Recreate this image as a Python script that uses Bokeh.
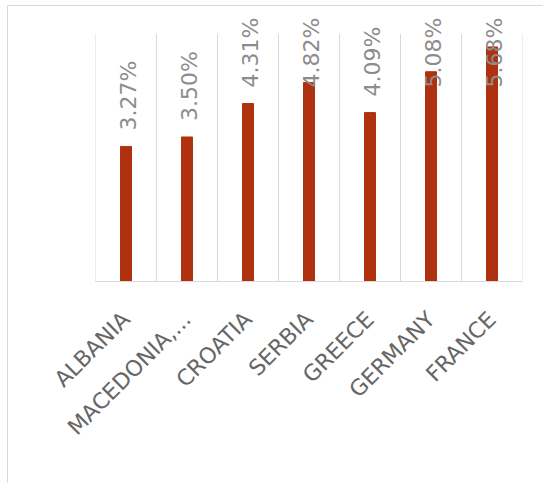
import numpy as np
from bokeh.plotting import figure
from bokeh.models import ColumnDataSource, FixedTicker, Range1d
from bokeh.core.properties import value
from bokeh.embed import file_html
from bokeh.resources import INLINE

countries = ["ALBANIA", "MACEDONIA,...", "CROATIA", "SERBIA", "GREECE", "GERMANY", "FRANCE"]
rates = [3.27, 3.50, 4.31, 4.82, 4.09, 5.08, 5.68]
rate_labels = ["3.27%", "3.50%", "4.31%", "4.82%", "4.09%", "5.08%", "5.68%"]

n = len(countries)
xs = np.arange(n) + 0.5
label_cap = 4.31  # labels cannot rise above plot top, so they are held down
label_y = np.minimum(np.array(rates), label_cap)

src = ColumnDataSource(dict(x=xs, top=rates, ly=label_y, lab=rate_labels))

FONT = "DejaVu Sans"
p = figure(width=536, height=478, output_backend="svg", toolbar_location=None,
           x_range=Range1d(0, n), y_range=Range1d(0, 6.49),
           min_border_left=87, min_border_right=22, min_border_top=7, min_border_bottom=203)
p.styles = {"margin-left": "7px", "margin-top": "5px",
            "border-left": "1px solid #d9d9d9", "border-top": "1px solid #d9d9d9"}
p.outline_line_color = None
p.background_fill_color = "white"
p.border_fill_color = "white"
p.xgrid.visible = False
p.ygrid.visible = False
p.yaxis.visible = False

# vertical category separators (chart gridlines) from 0 to 6
p.segment(x0=np.arange(n + 1), y0=0, x1=np.arange(n + 1), y1=6,
          line_color="#d9d9d9", line_width=1)

p.vbar(x="x", top="top", width=0.18, bottom=0, source=src,
       fill_color="#B0310F", line_color="#B0310F")

p.text(x="x", y="ly", text="lab", source=src, angle=np.pi / 2,
       text_align="left", text_baseline="middle", y_offset=-16, x_offset=2,
       text_font=value(FONT), text_font_size="22px", text_color="#8c8c8c")

ax = p.xaxis[0]
ax.ticker = FixedTicker(ticks=list(xs))
ax.major_label_overrides = {float(x): c for x, c in zip(xs, countries)}
ax.major_label_orientation = np.pi / 4
ax.major_label_text_font = FONT
ax.major_label_text_font_size = "22px"
ax.major_label_text_color = "#666666"
ax.major_label_standoff = 28
ax.major_tick_line_color = None
ax.minor_tick_line_color = None
ax.axis_line_color = "#d9d9d9"

open("out.html", "w").write(file_html(p, INLINE))
